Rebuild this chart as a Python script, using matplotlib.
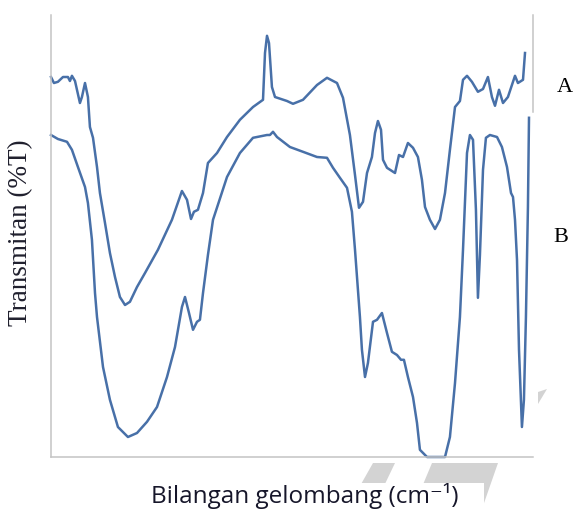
import matplotlib
matplotlib.use("Agg")
import matplotlib.pyplot as plt
from matplotlib.patches import Polygon, Rectangle

# Wavenumber (cm-1) and transmittance (%T, arbitrary offset)
wn_a = [4000, 3978, 3948, 3910, 3873, 3858, 3843, 3820, 3783, 3768, 3745, 3723, 3708, 3685,
        3655, 3633, 3595, 3558, 3520, 3483, 3445, 3408, 3355, 3295, 3198, 3093, 3018, 2980,
        2950, 2928, 2898, 2860, 2823, 2755, 2680, 2583, 2485, 2410, 2395, 2380, 2365, 2343,
        2320, 2230, 2185, 2110, 2005, 1930, 1855, 1810, 1758, 1720, 1690, 1660, 1630, 1593,
        1570, 1548, 1525, 1510, 1480, 1420, 1390, 1360, 1323, 1285, 1248, 1218, 1195, 1158,
        1120, 1083, 1045, 1008, 970, 933, 910, 880, 843, 798, 760, 723, 693, 670, 640, 610,
        573, 520, 498, 460, 445]
t_a = [95, 93.5, 93.8, 95, 95, 94, 95.3, 94, 88.5, 90, 93.5, 90, 82.5, 79.8,
       72.5, 66, 58.5, 51, 45, 40, 38, 38.8, 42.5, 46, 51.8, 59.3, 66.5, 64.3,
       59.5, 61.3, 61.8, 66, 73.5, 76, 80, 84.3, 87.5, 89.3, 101, 105.3, 103.5, 92.5,
       90, 89, 88.3, 89.3, 93, 94.8, 93.5, 89.8, 80.5, 70.5, 62.3, 63.8, 71, 75,
       81, 84, 81.8, 74.3, 72.3, 71, 75.5, 75, 78.5, 77.3, 75, 69.3, 62.5, 59.3,
       57, 59.3, 66, 76.8, 87.5, 89, 94.3, 95.3, 93.8, 91.3, 92, 95, 90, 87.8, 91.8, 88.5,
       90, 95.3, 93.5, 94.3, 101]

wn_b = [4000, 3948, 3880, 3843, 3798, 3745, 3723, 3693, 3670, 3655, 3610, 3558, 3498, 3423,
        3355, 3280, 3205, 3130, 3070, 3018, 2995, 2965, 2935, 2905, 2883, 2860, 2823, 2785,
        2680, 2583, 2485, 2380, 2358, 2335, 2305, 2208, 2110, 2005, 1930, 1885, 1833, 1780,
        1743, 1720, 1683, 1668, 1645, 1623, 1585, 1555, 1518, 1480, 1443, 1405, 1375, 1353,
        1323, 1285, 1255, 1233, 1180, 1045, 1008, 970, 933, 910, 880, 858, 835, 813, 798,
        783, 760, 738, 708, 655, 618, 580, 550, 535, 520, 505, 490, 468, 453, 438, 423, 415]
t_b = [80.5, 79.5, 78.8, 76.8, 72.5, 67.5, 63.5, 54.3, 41, 35, 22.5, 14.3, 7.5, 5,
       6, 8.8, 12.5, 20, 27.5, 37.5, 40, 36, 31.8, 33.8, 34.3, 41, 50.5, 59.3,
       70, 76, 79.8, 80.5, 80.5, 81.3, 80, 77.5, 76.3, 75, 74.8, 72.3, 69.8, 67.3,
       61.3, 51.8, 35, 26.8, 20, 23.5, 33.8, 34.3, 36, 31, 26.3, 25.5, 24.3, 24.3,
       20, 15, 8.5, 1.8, 0, 0, 5, 18.5, 35, 51.8, 76, 80.5, 79.3, 61.8, 39.8,
       50.5, 71.8, 79.8, 80.5, 80, 77.5, 72.5, 66, 65, 59.3, 49.3, 26.8, 7.5, 14.3, 35, 62.5, 84.8]

series_labels = ["A", "B"]
x_label = "Bilangan gelombang (cm\u207b\u00b9)"
y_label = "Transmitan (%T)"

W, H = 576, 509
fig = plt.figure(figsize=(W / 100, H / 100), dpi=100)
fig.patch.set_facecolor("white")

def fx(px):
    return px / W

def fy(py):
    return 1 - py / H

# light grey watermark shapes behind the label
for verts in [
    [(373, 463), (395, 463), (384, 486), (360, 486)],
    [(432, 463), (498, 463), (483, 506), (414, 506)],
    [(538, 392), (547, 389), (538, 404)],
]:
    fig.patches.append(Polygon([(fx(x), fy(y)) for x, y in verts], closed=True,
                               transform=fig.transFigure, facecolor="#d3d3d3",
                               edgecolor="none", zorder=0))
fig.patches.append(Rectangle((fx(120), fy(509)), fx(484) - fx(120), fy(483) - fy(509),
                             transform=fig.transFigure, facecolor="white",
                             edgecolor="none", zorder=1))

ax = fig.add_axes([51 / W, 52 / H, 482 / W, 442 / H])
ax.set_facecolor("none")
line_color = "#4870a8"
ax.plot(wn_a, t_a, color=line_color, lw=1.8, clip_on=False, solid_joinstyle="round")
ax.plot(wn_b, t_b, color=line_color, lw=1.8, clip_on=False, solid_joinstyle="round")

ax.set_xlim(4000, 385)
ax.set_ylim(0, 110.5)
ax.set_xticks([])
ax.set_yticks([])
ax.spines["top"].set_visible(False)
for s in ["left", "bottom", "right"]:
    ax.spines[s].set_color("#c4c4c4")
    ax.spines[s].set_linewidth(1.1)
ax.spines["right"].set_bounds(86.3, 110.5)

fig.text(fx(305), fy(496), x_label, ha="center", va="center", fontsize=17.5,
         family=["Open Sans", "DejaVu Sans"], color="#16162a", zorder=5)
fig.text(fx(21), fy(233), y_label, ha="center", va="center", rotation=90, fontsize=19.5,
         family=["Liberation Serif", "DejaVu Serif"], color="#20202e")
fig.text(fx(565), fy(88), series_labels[0], ha="center", va="center", fontsize=16,
         family=["Liberation Serif"], color="black")
fig.text(fx(561), fy(237), series_labels[1], ha="center", va="center", fontsize=16,
         family=["Liberation Serif"], color="black")

fig.savefig("out.png", dpi=100)
